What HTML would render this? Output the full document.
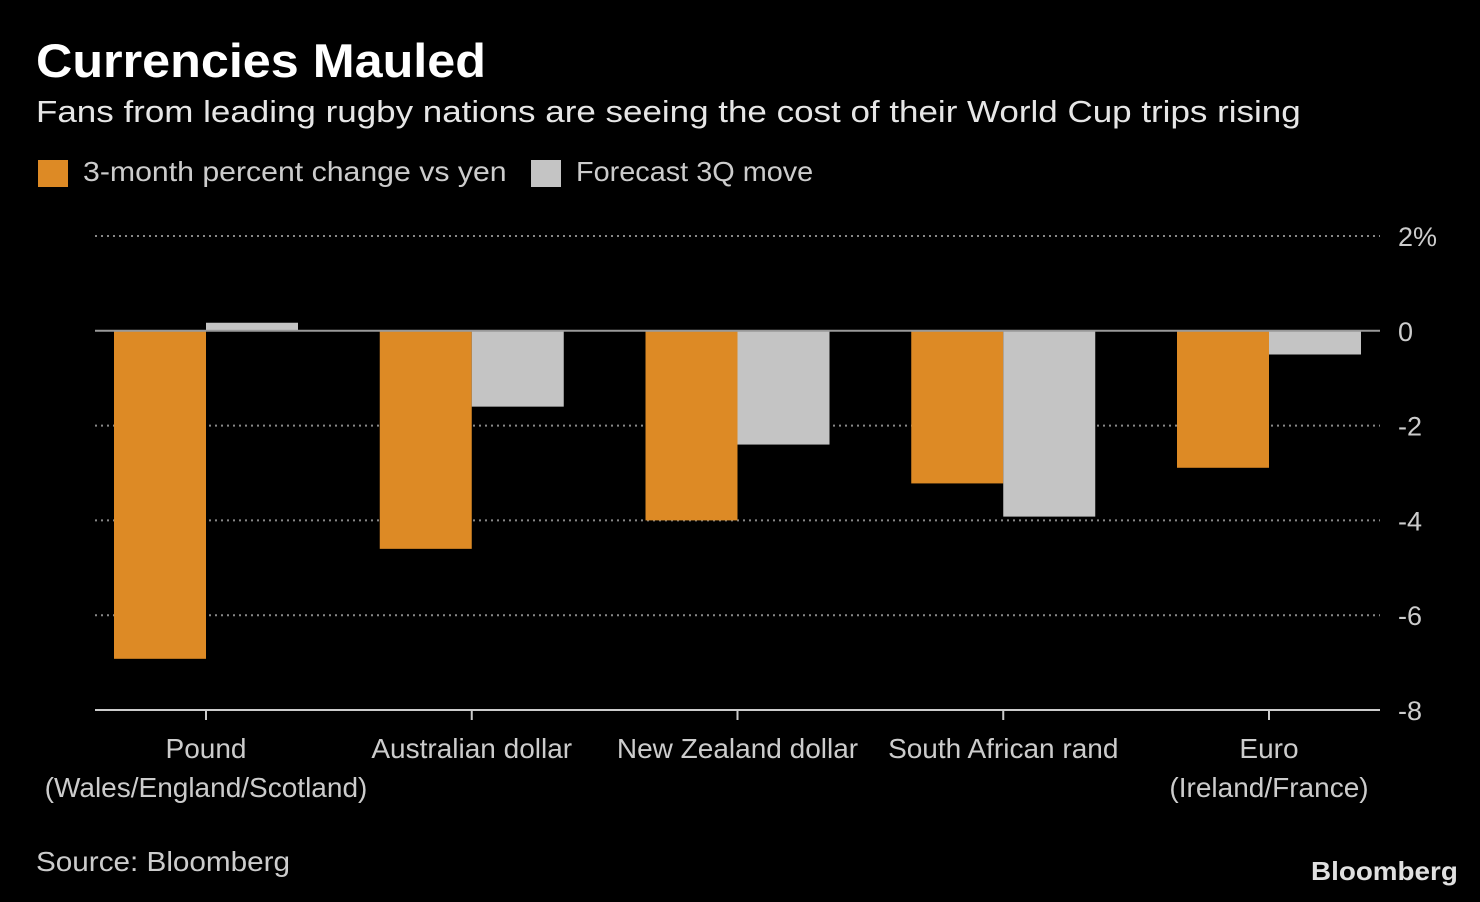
<!DOCTYPE html>
<html><head><meta charset="utf-8"><style>
html,body{margin:0;padding:0;background:#000;}
body{width:1480px;height:902px;overflow:hidden;font-family:"Liberation Sans","DejaVu Sans",sans-serif;color:#fff;position:relative;}
.t{position:absolute;white-space:nowrap;transform-origin:0 0;}
</style></head><body>
<div class="t" style="left:36px;top:33px;font-size:47px;font-weight:bold;transform:scaleX(1.07);">Currencies Mauled</div>
<div class="t" style="left:36px;top:94px;font-size:31px;color:#e6e6e6;transform:scaleX(1.128);">Fans from leading rugby nations are seeing the cost of their World Cup trips rising</div>
<div>
<div class="t" style="left:38px;top:160px;width:30px;height:27px;background:#dd8a25;"></div>
<div class="t" style="left:83px;top:156px;font-size:28px;color:#ccc;transform:scaleX(1.08);">3-month percent change vs yen</div>
<div class="t" style="left:531px;top:160px;width:30px;height:27px;background:#c4c4c4;"></div>
<div class="t" style="left:576px;top:156px;font-size:28px;color:#ccc;transform:scaleX(1.03);">Forecast 3Q move</div>
</div>
<svg id="chart" width="1480" height="902" style="position:absolute;left:0;top:0;"></svg>
<div class="t" style="left:36px;top:846px;font-size:28px;color:#ccc;transform:scaleX(1.06);">Source: Bloomberg</div>
<div class="t" style="left:1311px;top:856px;font-size:26px;font-weight:bold;color:#e0e0e0;transform:scaleX(1.07);">Bloomberg</div>
<script>
const categories=["Pound|(Wales/England/Scotland)","Australian dollar","New Zealand dollar","South African rand","Euro|(Ireland/France)"];
const changeValues=[-6.92,-4.6,-4.0,-3.22,-2.89];
const forecastValues=[0.17,-1.6,-2.4,-3.92,-0.5];
const tickValues=[2,0,-2,-4,-6,-8];
const tickLabels=["2%","0","-2","-4","-6","-8"];
const NS="http://www.w3.org/2000/svg";
const svg=document.getElementById('chart');
const x0=95,x1=1380,yTop=236,yBot=710,vMax=2,vMin=-8;
function y(v){return yTop+(vMax-v)/(vMax-vMin)*(yBot-yTop);}
const firstCenter=206,lastCenter=1269;
function xc(i){return firstCenter+(lastCenter-firstCenter)*i/(categories.length-1);}
const bw=92;
function mk(tag,attrs){const e=document.createElementNS(NS,tag);for(const k in attrs)e.setAttribute(k,attrs[k]);svg.appendChild(e);return e;}
tickValues.forEach((v,i)=>{
  if(v!==vMin&&v!==0){const g=mk('line',{x1:x0,x2:x1,y1:y(v),y2:y(v),stroke:'#888','stroke-width':2,'stroke-dasharray':'2,4'});
  
  }
  const t=mk('text',{x:1398,y:y(v)+10,fill:'#ccc','font-size':27,'font-family':'Liberation Sans, sans-serif'});
  t.textContent=tickLabels[i];
  
  
});
categories.forEach((c,i)=>{
  const cx=xc(i);
  const a=changeValues[i],b=forecastValues[i];
  const r1=mk('rect',{x:cx-bw,y:Math.min(y(0),y(a)),width:bw,height:Math.abs(y(a)-y(0)),fill:'#dd8a25'});
  
  
  const r2=mk('rect',{x:cx,y:Math.min(y(0),y(b)),width:bw,height:Math.abs(y(b)-y(0)),fill:'#c4c4c4'});
  
  
  const tk=mk('line',{x1:cx,x2:cx,y1:yBot,y2:yBot+10,stroke:'#ccc','stroke-width':2});
  
  
  c.split('|').forEach((ln,j)=>{
    const t=mk('text',{x:cx,y:758+j*39,fill:'#ccc','font-size':28,'text-anchor':'middle','font-family':'Liberation Sans, sans-serif'});
    t.textContent=ln;
    
    
  });
});
const z=mk('line',{x1:x0,x2:x1,y1:y(0),y2:y(0),stroke:'#999','stroke-width':2});


const ax=mk('line',{x1:x0,x2:x1,y1:yBot,y2:yBot,stroke:'#ccc','stroke-width':2});


</script>
</body></html>
